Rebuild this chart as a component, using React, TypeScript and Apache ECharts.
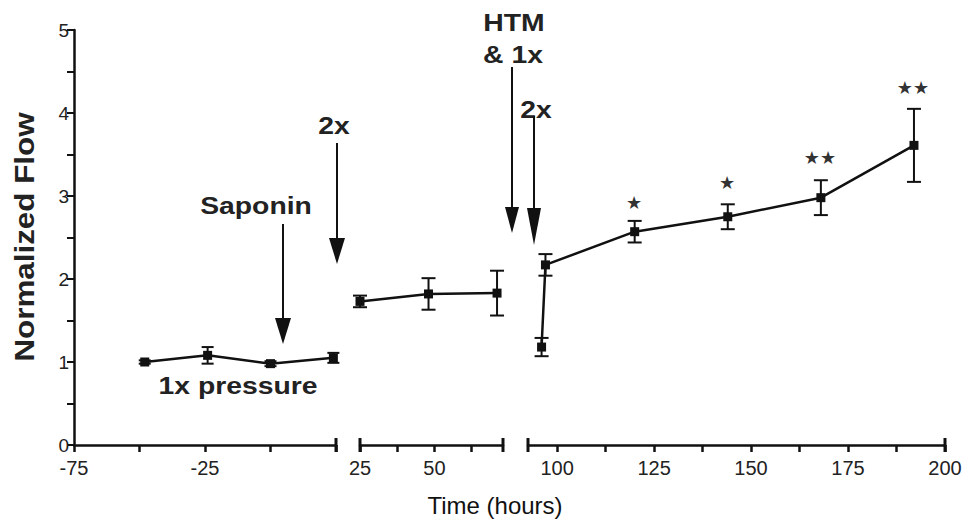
import React, { useEffect, useRef } from "react";
import * as echarts from "echarts";

// ---- data ----
const seg1Time = [-48, -24, 0, 24];
const seg1Flow = [1.0, 1.08, 0.98, 1.05];
const seg1Err = [0.02, 0.1, 0.03, 0.06];

const seg2Time = [25, 48, 71];
const seg2Flow = [1.73, 1.82, 1.83];
const seg2Err = [0.07, 0.19, 0.27];

const seg3Time = [96, 97, 120, 144, 168, 192];
const seg3Flow = [1.18, 2.17, 2.57, 2.75, 2.98, 3.61];
const seg3Err = [0.11, 0.13, 0.13, 0.15, 0.21, 0.44];

const segRanges = [
  [-75, 25],
  [25, 73],
  [92.5, 200],
];
const segTicks = [
  [-75, -50, -25, 0, 25],
  [25, 37.5, 50, 62.5],
  [100, 112.5, 125, 137.5, 150, 162.5, 175, 187.5, 200],
];
const segLabels = [
  [-75, -25],
  [25, 50],
  [100, 125, 150, 175, 200],
];

const starTexts = ["★", "★", "★★", "★★"];

const FONT = '"Liberation Sans", Arial, Helvetica, sans-serif';
const INK = "#111";

const grids = [
  { left: 74, width: 262, top: 30, height: 415 },
  { left: 360, width: 143, top: 30, height: 415 },
  { left: 528, width: 417, top: 30, height: 415 },
];

function errSeries(idx: number, times: number[], vals: number[], errs: number[], halfW: number) {
  return {
    type: "custom",
    xAxisIndex: idx,
    yAxisIndex: idx,
    z: 3,
    data: times.map((t, i) => [t, vals[i] - errs[i], vals[i] + errs[i]]),
    renderItem: (_p: any, api: any) => {
      const lo = api.coord([api.value(0), api.value(1)]);
      const hi = api.coord([api.value(0), api.value(2)]);
      const st = { stroke: INK, lineWidth: 2 };
      return {
        type: "group",
        children: [
          { type: "line", shape: { x1: lo[0], y1: lo[1], x2: hi[0], y2: hi[1] }, style: st },
          { type: "line", shape: { x1: lo[0] - halfW, y1: lo[1], x2: lo[0] + halfW, y2: lo[1] }, style: st },
          { type: "line", shape: { x1: hi[0] - halfW, y1: hi[1], x2: hi[0] + halfW, y2: hi[1] }, style: st },
        ],
      };
    },
  };
}

function lineSeries(idx: number, times: number[], vals: number[]) {
  return {
    type: "line",
    xAxisIndex: idx,
    yAxisIndex: idx,
    z: 4,
    data: times.map((t, i) => [t, vals[i]]),
    symbol: "rect",
    symbolSize: 9,
    itemStyle: { color: INK },
    lineStyle: { color: INK, width: 2.5 },
  };
}

function txt(text: string, x: number, y: number, size: number, weight = "bold", extra: any = {}, fill = "#222", family = FONT) {
  return {
    type: "text",
    x,
    y,
    z: 10,
    ...extra,
    style: {
      text,
      fill,
      fontSize: size,
      fontWeight: weight,
      fontFamily: family,
      align: "center",
      verticalAlign: "middle",
      textAlign: "center",
      textVerticalAlign: "middle",
    },
  };
}

function arrow(x: number, y1: number, yHead: number, yTip: number, hw: number) {
  return [
    { type: "line", z: 10, shape: { x1: x, y1, x2: x, y2: yHead + 2 }, style: { stroke: INK, lineWidth: 2 } },
    {
      type: "polygon",
      z: 10,
      shape: { points: [[x - hw, yHead], [x + hw, yHead], [x, yTip]] },
      style: { fill: INK },
    },
  ];
}

export default function App() {
  const ref = useRef<HTMLDivElement>(null);
  useEffect(() => {
    if (!ref.current) return;
    const chart = echarts.init(ref.current, null, { renderer: "svg" });

    const xAxes = segRanges.map((r, i) => ({
      type: "value",
      gridIndex: i,
      min: r[0],
      max: r[1],
      splitLine: { show: false },
      axisLine: { show: true, onZero: false, lineStyle: { color: INK, width: 2.5 } },
      axisTick: { show: true, length: 7, customValues: segTicks[i], lineStyle: { color: INK, width: 2.5 } },
      axisLabel: {
        customValues: segLabels[i],
        color: "#222",
        fontSize: 20,
        fontFamily: FONT,
        margin: 13,
      },
    }));

    const yAxes = grids.map((_, i) => ({
      type: "value",
      gridIndex: i,
      min: 0,
      max: 5,
      interval: 0.5,
      show: i === 0,
      splitLine: { show: false },
      axisLine: { show: true, onZero: false, lineStyle: { color: INK, width: 2.5 } },
      axisTick: { show: true, length: 7, lineStyle: { color: INK, width: 2 } },
      axisLabel: {
        color: "#222",
        fontSize: 19,
        fontFamily: FONT,
        margin: 5,
        formatter: (v: number) => (Number.isInteger(v) ? String(v) : ""),
      },
    }));

    // end caps on the broken x-axis
    const capY = 445;
    const capXs = [
      grids[0].left + grids[0].width,
      grids[1].left,
      grids[1].left + grids[1].width,
      grids[2].left,
      grids[2].left + grids[2].width,
    ];
    const caps = capXs.map((x) => ({
      type: "line",
      z: 10,
      shape: { x1: x, y1: capY - 7, x2: x, y2: capY + 7 },
      style: { stroke: INK, lineWidth: 3 },
    }));

    const S = { scaleX: 1.18 };
    const STAR = '"DejaVu Sans", sans-serif';
    const graphics: any[] = [
      ...caps,
      txt("Normalized Flow", 24, 237, 28, "bold", { rotation: Math.PI / 2, scaleX: 1.12 }),
      txt("Time (hours)", 495, 505, 24, "normal", {}, "#111"),
      txt("Saponin", 256, 206, 24, "bold", S),
      ...arrow(283, 224, 318, 344, 8),
      txt("2x", 334, 126, 24, "bold", S),
      ...arrow(337, 143, 238, 264, 8),
      txt("HTM", 514, 23, 24, "bold", S),
      txt("& 1x", 513, 55, 24, "bold", S),
      ...arrow(512, 67, 207, 233, 7),
      txt("2x", 536, 110, 24, "bold", S),
      ...arrow(534, 116, 208, 245, 7),
      txt("1x pressure", 238, 386, 24, "bold", S),
      txt(starTexts[0], 634, 202, 18, "normal", {}, "#333", STAR),
      txt(starTexts[1], 727, 182, 18, "normal", {}, "#333", STAR),
      txt(starTexts[2], 820, 157, 18, "normal", {}, "#333", STAR),
      txt(starTexts[3], 913, 87, 18, "normal", {}, "#333", STAR),
    ];

    chart.setOption({
      animation: false,
      backgroundColor: "#fff",
      grid: grids,
      xAxis: xAxes,
      yAxis: yAxes,
      series: [
        errSeries(0, seg1Time, seg1Flow, seg1Err, 6),
        lineSeries(0, seg1Time, seg1Flow),
        errSeries(1, seg2Time, seg2Flow, seg2Err, 7),
        lineSeries(1, seg2Time, seg2Flow),
        errSeries(2, seg3Time, seg3Flow, seg3Err, 7),
        lineSeries(2, seg3Time, seg3Flow),
      ],
      graphic: graphics,
    });
    return () => chart.dispose();
  }, []);
  return (
    <div
      ref={ref}
      style={{ position: "absolute", left: 0, top: 0, width: 968, height: 525, background: "#fff" }}
    />
  );
}
